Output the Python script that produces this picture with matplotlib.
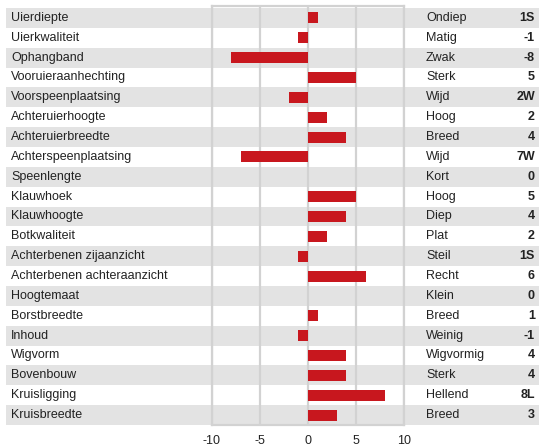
import matplotlib
matplotlib.use("Agg")
import matplotlib.pyplot as plt
from matplotlib.patches import Rectangle
from matplotlib.transforms import blended_transform_factory

# Colours
barRed = "#c8171e"
bandGrey = "#e3e3e3"
gridGrey = "#d2d2d2"
textDark = "#222222"

# Data
traits = ["Uierdiepte", "Uierkwaliteit", "Ophangband", "Vooruieraanhechting",
          "Voorspeenplaatsing", "Achteruierhoogte", "Achteruierbreedte",
          "Achterspeenplaatsing", "Speenlengte", "Klauwhoek", "Klauwhoogte",
          "Botkwaliteit", "Achterbenen zijaanzicht", "Achterbenen achteraanzicht",
          "Hoogtemaat", "Borstbreedte", "Inhoud", "Wigvorm", "Bovenbouw",
          "Kruisligging", "Kruisbreedte"]
scores = [1, -1, -8, 5, -2, 2, 4, -7, 0, 5, 4, 2, -1, 6, 0, 1, -1, 4, 4, 8, 3]
descriptions = ["Ondiep", "Matig", "Zwak", "Sterk", "Wijd", "Hoog", "Breed",
                "Wijd", "Kort", "Hoog", "Diep", "Plat", "Steil", "Recht",
                "Klein", "Breed", "Weinig", "Wigvormig", "Sterk", "Hellend", "Breed"]
scoreLabels = ["1S", "-1", "-8", "5", "2W", "2", "4", "7W", "0", "5", "4", "2",
               "1S", "6", "0", "1", "-1", "4", "4", "8L", "3"]
xticks = [-10, -5, 0, 5, 10]

W, H = 540, 447
fig = plt.figure(figsize=(W / 100, H / 100), dpi=100)
fig.patch.set_facecolor("white")

# chart area in pixels: x 212..404, y 6..425 (from top)
ax = fig.add_axes([212 / W, (H - 425) / H, 192 / W, 419 / H])
ax.set_facecolor("none")

rows = list(range(len(traits)))
ax.set_xlim(-10, 10)
ax.set_ylim(len(traits) - 0.5, -0.6)

# grey bands on every other row, across the whole width
trans = blended_transform_factory(fig.transFigure, ax.transData)
for i in rows:
    if i % 2 == 0:
        ax.add_patch(Rectangle((6 / W, i - 0.5), (539 - 6) / W, 1.0, transform=trans,
                               facecolor=bandGrey, edgecolor="none", clip_on=False, zorder=0.1))

ax.barh(rows, scores, height=0.55, color=barRed, zorder=3)

ax.set_xticks(xticks)
ax.set_xticklabels([str(t) for t in xticks])
ax.set_yticks([])
ax.tick_params(axis="x", length=0, pad=7, labelsize=9, labelcolor=textDark)
for t in ax.get_xticklabels():
    t.set_fontfamily("Liberation Sans")
ax.grid(axis="x", color=gridGrey, linewidth=1.6, zorder=0.5)
ax.set_axisbelow(True)
for s in ax.spines.values():
    s.set_color(gridGrey)
    s.set_linewidth(1.6)

# text columns
for i in rows:
    ax.text(11 / W, i, traits[i], transform=trans, ha="left", va="center",
            fontsize=9, color=textDark, family="Liberation Sans")
    ax.text(426 / W, i, descriptions[i], transform=trans, ha="left", va="center",
            fontsize=9, color=textDark, family="Liberation Sans")
    ax.text(535 / W, i, scoreLabels[i], transform=trans, ha="right", va="center",
            fontsize=9, color=textDark, family="Liberation Sans", fontweight="bold")

fig.savefig("out.png", dpi=100, facecolor="white")
